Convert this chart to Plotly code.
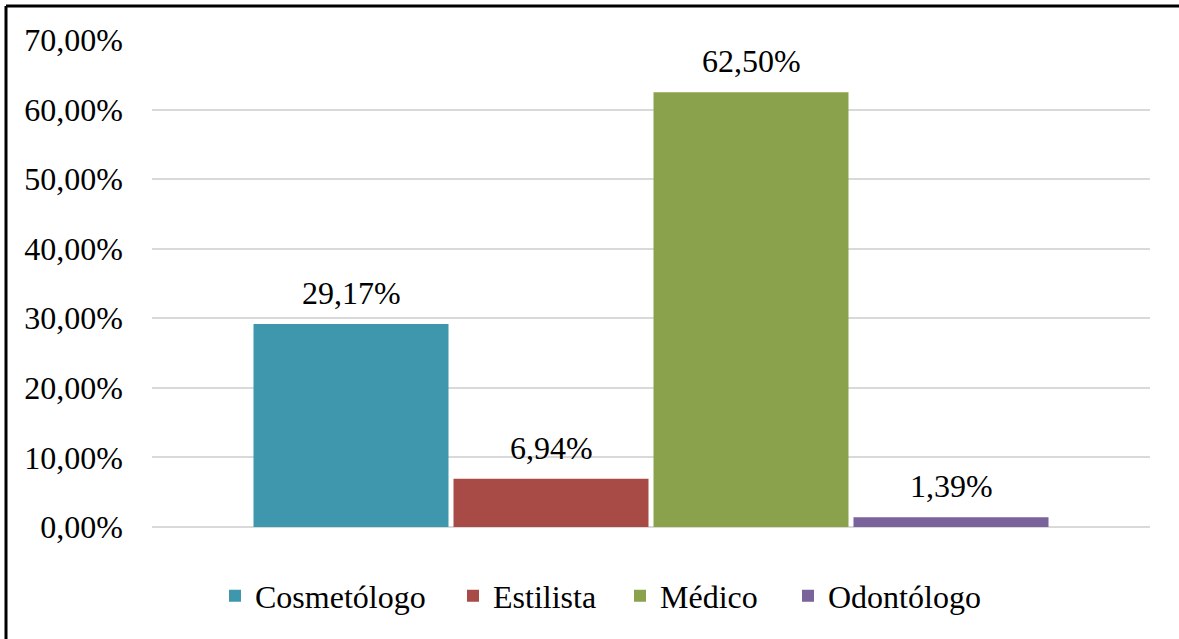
import plotly.graph_objects as go

# Distribución por profesional
categorias = ["Cosmetólogo", "Estilista", "Médico", "Odontólogo"]
valores = [0.2917, 0.0694, 0.6250, 0.0139]
colores = ["#3E97AD", "#A84B46", "#8AA24C", "#79639A"]
ticks_y = [0.0, 0.1, 0.2, 0.3, 0.4, 0.5, 0.6, 0.7]

W, H = 1179, 639
ML, MR, MT, MB = 152, 29, 40, 112
PW, PH = W - ML - MR, H - MT - MB

FONT = "Liberation Serif"
FS = 32

# Left edge (px) of each legend entry
legend_px = [215, 453, 620, 788]


def px_x(p):
    return (p - ML) / PW


def px_y(p):
    return (H - MB - p) / PH


fig = go.Figure()
legend_layout = {}
for i, (nombre, v, c) in enumerate(zip(categorias, valores, colores)):
    key = "legend" if i == 0 else f"legend{i + 1}"
    fig.add_trace(go.Bar(
        name=nombre, x=[nombre], y=[v],
        marker=dict(color=c, line=dict(width=0)),
        hoverinfo="skip", legend=key,
    ))
    fig.add_annotation(
        x=nombre, y=v, xref="x", yref="y",
        text=f"{v * 100:.2f}%".replace(".", ","),
        showarrow=False, yanchor="bottom", yshift=11,
        font=dict(family=FONT, size=FS, color="#000000"),
    )
    legend_layout[key] = dict(
        orientation="h", x=px_x(legend_px[i]), xanchor="left",
        y=px_y(596), yanchor="middle",
        font=dict(family=FONT, size=FS, color="#000000"),
        bgcolor="rgba(0,0,0,0)", borderwidth=0,
    )

# Bars sit 200 px apart inside the plot area
spacing = 200.0
centre_px = PW / 2
span = PW / spacing
first = (centre_px - 1.5 * spacing) / spacing
x_range = [-first, span - first]

# Left and top border of the chart frame
frame = dict(color="#000000", width=3)
fig.add_shape(type="line", xref="paper", yref="paper",
              x0=px_x(6), x1=px_x(W + 10), y0=px_y(6), y1=px_y(6), line=frame)
fig.add_shape(type="line", xref="paper", yref="paper",
              x0=px_x(6), x1=px_x(6), y0=px_y(6), y1=px_y(H + 10), line=frame)

fig.update_layout(
    width=W, height=H,
    margin=dict(l=ML, r=MR, t=MT, b=MB),
    paper_bgcolor="#FFFFFF", plot_bgcolor="#FFFFFF",
    barmode="overlay", bargap=0.025,
    separators=",.",
    font=dict(family=FONT, size=FS, color="#000000"),
    showlegend=True,
    xaxis=dict(
        type="category", categoryorder="array", categoryarray=categorias,
        range=x_range, showticklabels=False, showgrid=False,
        showline=False, zeroline=False, ticks="",
    ),
    yaxis=dict(
        range=[0, 0.70], tickvals=ticks_y, tickformat=".2%",
        showgrid=True, gridcolor="#D9D9D9", gridwidth=1.5,
        zeroline=True, zerolinecolor="#D9D9D9", zerolinewidth=1.5,
        showline=False, ticks="", ticklabelstandoff=28,
        tickfont=dict(family=FONT, size=FS, color="#000000"),
    ),
    **legend_layout,
)

fig.write_html("out.html", config={"displayModeBar": False})
